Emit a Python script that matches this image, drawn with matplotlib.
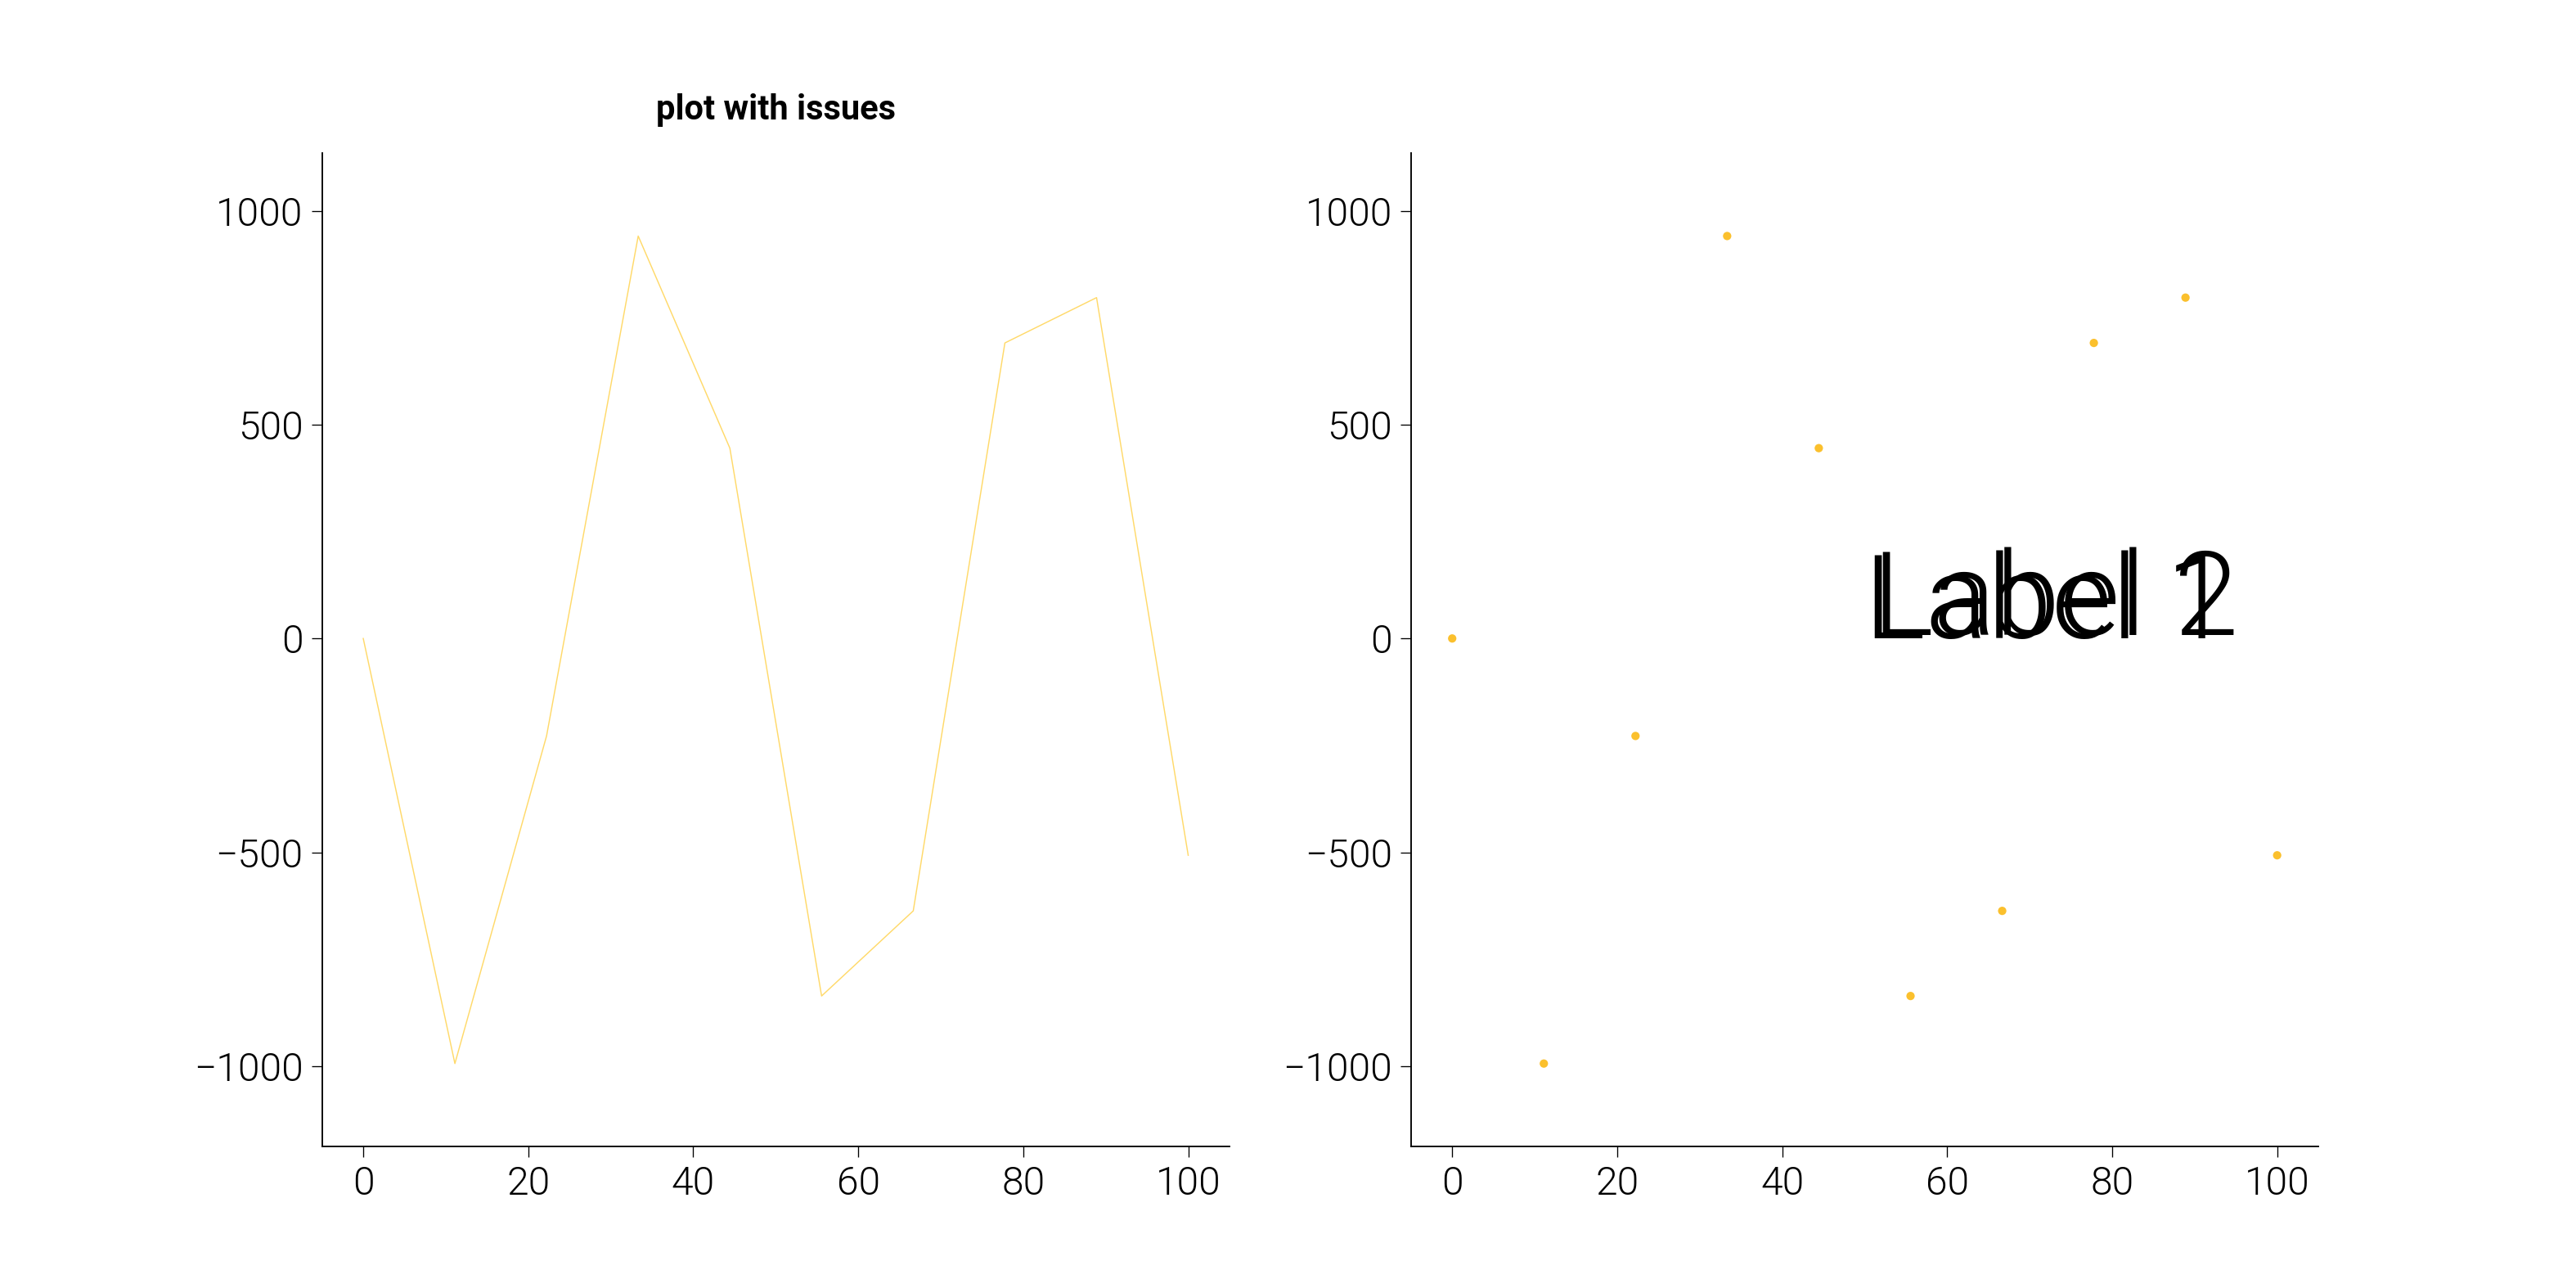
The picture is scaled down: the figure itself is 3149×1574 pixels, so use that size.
import matplotlib
matplotlib.use("Agg")
import matplotlib.pyplot as plt
from matplotlib import font_manager as fm

plt.rcParams['font.family'] = ['Roboto', 'DejaVu Sans']

x_values = [0.0, 11.11, 22.22, 33.33, 44.44, 55.56, 66.67, 77.78, 88.89, 100.0]
y_values = [0, -994, -228, 941, 445, -836, -637, 691, 797, -507]
x_ticks = [0, 20, 40, 60, 80, 100]
y_ticks = [-1000, -500, 0, 500, 1000]
title_text = "plot with issues"
label_texts = ["Label 1", "Label 2"]
label_x = [50, 50.9]
label_y = [0, 8]


def roboto(weight, size):
    cands = [f for f in fm.fontManager.ttflist
             if f.name == 'Roboto' and f.style == 'normal' and f.weight == weight
             and '[' not in f.fname]
    if cands:
        return fm.FontProperties(fname=cands[0].fname, size=size)
    return fm.FontProperties(family=['Roboto', 'DejaVu Sans'], weight=weight, size=size)


DPI = 300
fig, axes = plt.subplots(1, 2, figsize=(3149 / DPI, 1574 / DPI), dpi=DPI)
fig.subplots_adjust(left=0.125, right=0.9, top=0.881, bottom=0.11, wspace=0.2)

line_color = '#FFC107'
dot_color = '#FBC02D'

ax1, ax2 = axes
ax1.plot(x_values, y_values, color=line_color, lw=0.35, alpha=0.6)
ax2.scatter(x_values, y_values, s=6, color=dot_color, edgecolors='none')

label_fp = roboto(300, 34)
for t, lx, ly in zip(label_texts, label_x, label_y):
    ax2.text(lx, ly, t, fontproperties=label_fp, color='black', ha='left', va='baseline')

ax1.set_title(title_text, fontproperties=roboto(700, 10), pad=10)

tick_fp = roboto(300, 11.5)
for ax in axes:
    ax.margins(x=0.05, y=0.1)
    ax.set_xticks(x_ticks)
    ax.set_yticks(y_ticks)
    for s in ['top', 'right']:
        ax.spines[s].set_visible(False)
    for s in ['left', 'bottom']:
        ax.spines[s].set_linewidth(0.45)
    ax.tick_params(axis='both', direction='out', length=3.1, width=0.32, pad=2.4,
                   colors='black')
    for lab in ax.get_xticklabels() + ax.get_yticklabels():
        lab.set_fontproperties(tick_fp)

fig.savefig('out.png', dpi=DPI, facecolor='white')
